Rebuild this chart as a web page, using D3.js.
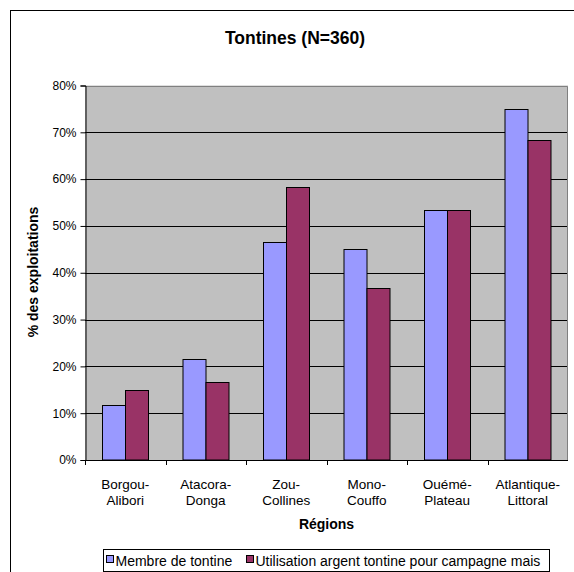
<!DOCTYPE html>
<html>
<head>
<meta charset="utf-8">
<script src="https://cdn.jsdelivr.net/npm/d3@7"></script>
<style>
  html, body { margin: 0; padding: 0; background: #fff; }
  svg { display: block; font-family: "Liberation Sans", Arial, sans-serif; }
</style>
</head>
<body>
<svg id="chart" width="574" height="572"></svg>
<script>
const title = "Tontines (N=360)";
const categories = ["Borgou-Alibori", "Atacora-Donga", "Zou-Collines", "Mono-Couffo", "Ouémé-Plateau", "Atlantique-Littoral"];
const seriesNames = ["Membre de tontine", "Utilisation argent tontine pour campagne mais"];
const membre = [11.67, 21.67, 46.67, 45.0, 53.33, 75.0];
const utilisation = [15.0, 16.67, 58.33, 36.67, 53.33, 68.33];
const yTicks = [0, 10, 20, 30, 40, 50, 60, 70, 80];
const yTitle = "% des exploitations";
const xTitle = "Régions";
const colors = ["#9999FF", "#993366"];

const svg = d3.select("#chart");
const plot = { left: 85, right: 568, top: 85.5, bottom: 460 };

// outer chart border (cut off at right/bottom like the reference)
svg.append("rect").attr("x", 10.5).attr("y", 10.5).attr("width", 700).attr("height", 700)
  .attr("fill", "#fff").attr("stroke", "#000").attr("stroke-width", 1);

const x = d3.scaleBand().domain(categories).range([plot.left, plot.right]).padding(0);
const xs = d3.scaleBand().domain(seriesNames).range([0, x.bandwidth()]).paddingInner(0).paddingOuter(0.75);
const y = d3.scaleLinear().domain([0, 80]).range([plot.bottom, plot.top]);

// plot background
svg.append("rect").attr("x", plot.left).attr("y", plot.top)
  .attr("width", plot.right - plot.left).attr("height", plot.bottom - plot.top)
  .attr("fill", "#C0C0C0");

// gridlines
svg.append("g").selectAll("line").data(yTicks.filter(d => d > 0 && d < 80)).join("line")
  .attr("x1", plot.left).attr("x2", plot.right)
  .attr("y1", d => Math.round(y(d)) + 0.5).attr("y2", d => Math.round(y(d)) + 0.5)
  .attr("stroke", "#000").attr("stroke-width", 1);

// plot border top/right
svg.append("path")
  .attr("d", `M${plot.left},${Math.round(plot.top)+0.5}H${plot.right-0.5}V${plot.bottom}`)
  .attr("fill", "none").attr("stroke", "#808080").attr("stroke-width", 1);

// bars
const data = categories.map((c, i) => ({ cat: c, vals: [membre[i], utilisation[i]] }));
const groups = svg.append("g").selectAll("g").data(data).join("g")
  .attr("transform", d => `translate(${x(d.cat)},0)`);
groups.selectAll("rect").data(d => d.vals.map((v, j) => ({ s: seriesNames[j], v, j }))).join("rect")
  .attr("x", d => Math.round(xs(d.s)) + 0.5)
  .attr("y", d => Math.round(y(d.v)) + 0.5)
  .attr("width", xs.bandwidth())
  .attr("height", d => plot.bottom - Math.round(y(d.v)) - 0.5)
  .attr("fill", d => colors[d.j])
  .attr("stroke", "#000").attr("stroke-width", 1);

// y axis
const yAxis = d3.axisLeft(y).tickValues(yTicks).tickFormat(d => d + "%").tickSize(5).tickPadding(4);
const gy = svg.append("g").attr("transform", `translate(${plot.left + 0.5},0)`).call(yAxis);
gy.select(".domain").attr("stroke", "#000");
gy.selectAll(".tick line").attr("stroke", "#000");
gy.selectAll(".tick text").attr("font-size", 12).attr("fill", "#000")
  .attr("font-family", "Liberation Sans, Arial, sans-serif");

// x axis
const boundaries = categories.map(c => x(c)).concat([plot.right]);
svg.append("line").attr("x1", plot.left).attr("x2", plot.right)
  .attr("y1", plot.bottom + 0.5).attr("y2", plot.bottom + 0.5).attr("stroke", "#000");
svg.append("g").selectAll("line").data(boundaries.slice(0, -1)).join("line")
  .attr("x1", d => Math.round(d) + 0.5).attr("x2", d => Math.round(d) + 0.5)
  .attr("y1", plot.bottom).attr("y2", plot.bottom + 5).attr("stroke", "#000");

const catText = svg.append("g").selectAll("text").data(categories).join("text")
  .attr("text-anchor", "middle").attr("font-size", 13.5).attr("fill", "#000");
catText.each(function(d) {
  const idx = d.indexOf("-");
  const lines = [d.slice(0, idx + 1), d.slice(idx + 1)];
  const cx = x(d) + x.bandwidth() / 2;
  d3.select(this).selectAll("tspan").data(lines).join("tspan")
    .attr("x", cx).attr("y", (l, k) => 488.5 + k * 16).text(l => l);
});

// axis titles
svg.append("text").attr("x", x(categories[0]) + (plot.right - plot.left) / 2).attr("y", 529)
  .attr("text-anchor", "middle").attr("font-size", 14).attr("font-weight", "bold").text(xTitle);
svg.append("text").attr("transform", `translate(38,272) rotate(-90)`)
  .attr("text-anchor", "middle").attr("font-size", 14).attr("font-weight", "bold").text(yTitle);

// title
svg.append("text").attr("x", 295).attr("y", 44).attr("text-anchor", "middle")
  .attr("font-size", 17.5).attr("font-weight", "bold").text(title);

// legend
const lg = svg.append("g");
lg.append("rect").attr("x", 103.5).attr("y", 549.5).attr("width", 446).attr("height", 22)
  .attr("fill", "#fff").attr("stroke", "#000");
const legX = [106, 246];
seriesNames.forEach((s, i) => {
  lg.append("rect").attr("x", legX[i] + 0.5).attr("y", 555.5).attr("width", 7).attr("height", 7)
    .attr("fill", colors[i]).attr("stroke", "#000");
  lg.append("text").attr("x", legX[i] + 9.5).attr("y", 565.5).attr("font-size", 14).attr("fill", "#000").text(s);
});
</script>
</body>
</html>
